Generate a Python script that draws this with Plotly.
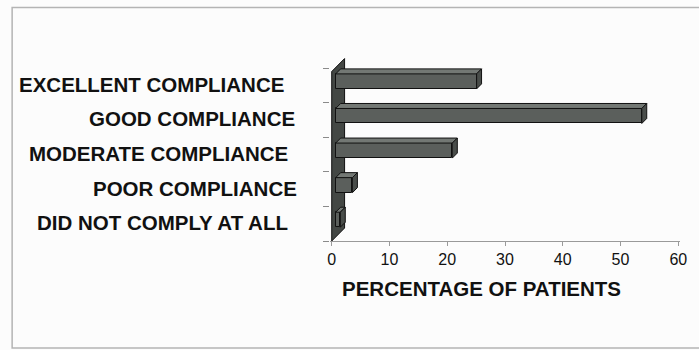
import plotly.graph_objects as go

# --- data -------------------------------------------------------------
categories = [
    "DID NOT COMPLY AT ALL",
    "POOR COMPLIANCE",
    "MODERATE COMPLIANCE",
    "GOOD COMPLIANCE",
    "EXCELLENT COMPLIANCE",
]
percent_patients = [0.8, 2.9, 20.2, 53.0, 24.4]
x_ticks = [0, 10, 20, 30, 40, 50, 60]
x_title = "PERCENTAGE OF PATIENTS"

# --- geometry ---------------------------------------------------------
FIG_W, FIG_H = 699, 350
M_L, M_R, M_T, M_B = 330, 15, 56, 109
X_RANGE = [-0.3, 60.3]
Y_RANGE = [-0.5, 4.85]
PLOT_W = FIG_W - M_L - M_R
PLOT_H = FIG_H - M_T - M_B
KX = PLOT_W / (X_RANGE[1] - X_RANGE[0])   # px per percent
KY = PLOT_H / (Y_RANGE[1] - Y_RANGE[0])   # px per category

BAR_SHIFT = 4      # px the bar front sits behind the floor edge
BAR_DEPTH = 5      # px depth of each bar
BAR_HEIGHT = 15    # px height of bar front face
WALL_DEPTH = 13    # px depth of the side wall
WALL_TOP = 4.4

FONT = "Liberation Sans, Arial, sans-serif"
FACE = "#5b5f5c"
TOP = "#737874"
SIDE = "#494d4a"
WALL = "#434744"
EDGE = "#111111"

base = BAR_SHIFT / KX
lift = BAR_SHIFT / KY
half = BAR_HEIGHT / KY / 2
dx = BAR_DEPTH / KX
dy = BAR_DEPTH / KY

fig = go.Figure()

# front faces of the 3-D bars
fig.add_trace(go.Bar(
    y=[i + lift for i in range(len(categories))],
    x=percent_patients,
    base=base,
    orientation="h",
    width=2 * half,
    marker=dict(color=FACE, line=dict(color=EDGE, width=1)),
    hoverinfo="skip",
    showlegend=False,
))

# top and end faces of each bar
for i, v in enumerate(percent_patients):
    yc = i + lift
    yt, yb = yc + half, yc - half
    x0, x1 = base, base + v
    fig.add_trace(go.Scatter(
        x=[x0, x1, x1 + dx, x0 + dx, x0],
        y=[yt, yt, yt + dy, yt + dy, yt],
        mode="lines", fill="toself", fillcolor=TOP,
        line=dict(color=EDGE, width=1),
        hoverinfo="skip", showlegend=False,
    ))
    fig.add_trace(go.Scatter(
        x=[x1, x1 + dx, x1 + dx, x1, x1],
        y=[yb, yb + dy, yt + dy, yt, yb],
        mode="lines", fill="toself", fillcolor=SIDE,
        line=dict(color=EDGE, width=1),
        hoverinfo="skip", showlegend=False,
    ))

wx = WALL_DEPTH / KX
wy = WALL_DEPTH / KY
wall_path = (f"M 0,{Y_RANGE[0]} L {wx},{Y_RANGE[0] + wy} "
             f"L {wx},{WALL_TOP + wy} L 0,{WALL_TOP} Z")

def px_to_paper_x(px):
    return (px - M_L) / PLOT_W

def px_to_paper_y(py):
    return (FIG_H - M_B - py) / PLOT_H

shapes = [
    dict(type="path", path=wall_path, xref="x", yref="y",
         fillcolor=WALL, line=dict(color=EDGE, width=1), layer="below"),
    dict(type="rect", xref="paper", yref="paper",
         x0=px_to_paper_x(8.5), x1=px_to_paper_x(720),
         y0=px_to_paper_y(348), y1=px_to_paper_y(7.5),
         line=dict(color="#b4b4b4", width=1.5), fillcolor="rgba(0,0,0,0)",
         layer="below"),
]

# category labels, each nudged to its own right edge
label_shift = [-40, -31, -40, -33, -44]
annotations = []
for i, (name, sh) in enumerate(zip(categories, label_shift)):
    annotations.append(dict(
        x=0, xref="paper", y=i, yref="y", text=name,
        xanchor="right", yanchor="middle", xshift=sh, yshift=1,
        showarrow=False,
        font=dict(family=FONT, size=20.5, color="#111111", weight="bold"),
    ))
annotations.append(dict(
    x=px_to_paper_x(483), xref="paper", y=px_to_paper_y(288), yref="paper",
    text=x_title, xanchor="center", yanchor="middle", showarrow=False,
    font=dict(family=FONT, size=20.5, color="#111111", weight="bold"),
))

fig.update_layout(
    width=FIG_W, height=FIG_H,
    margin=dict(l=M_L, r=M_R, t=M_T, b=M_B, pad=0),
    paper_bgcolor="#fcfcfc", plot_bgcolor="rgba(0,0,0,0)",
    shapes=shapes, annotations=annotations,
    bargap=0,
)
fig.update_xaxes(
    range=X_RANGE, tickvals=x_ticks, showgrid=False, zeroline=False,
    showline=True, linecolor="#9a9a9a", linewidth=1,
    ticks="outside", ticklen=4, tickcolor="#9a9a9a",
    tickfont=dict(family=FONT, size=16, color="#111111"),
)
fig.update_yaxes(
    range=Y_RANGE, tickvals=[-0.5, 0.5, 1.5, 2.5, 3.5, 4.5],
    showticklabels=False, showgrid=False, zeroline=False, showline=False,
    ticks="outside", ticklen=6, tickcolor="#8a8a8a",
)

fig.write_html("out.html")
